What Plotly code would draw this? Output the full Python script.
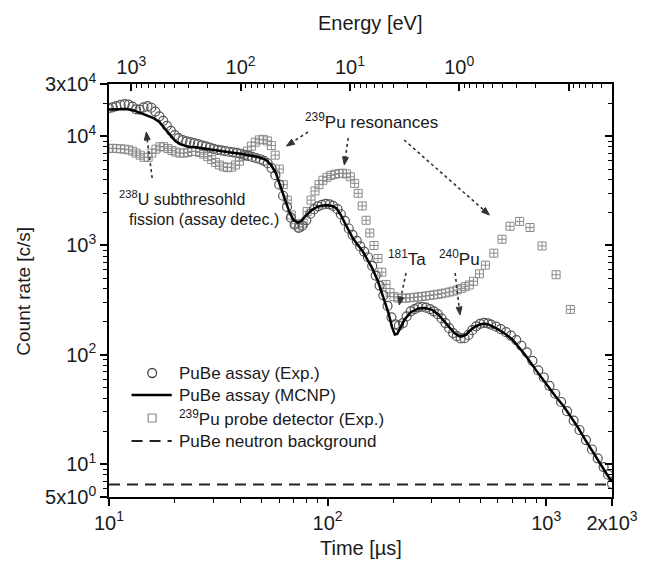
import math
import plotly.graph_objects as go

# ---------------- data ----------------
time_assay = [10.0, 10.4, 10.8, 11.3, 11.8, 12.3, 12.8, 13.3, 13.8, 14.4, 15.0, 15.6, 16.3, 17.0, 17.7,
              18.4, 19.2, 20.0, 20.8, 21.7, 22.6, 23.5, 24.5, 25.5, 26.6, 27.7, 28.9, 30.1, 31.3, 32.6,
              34.0, 35.4, 36.9, 38.4, 40.0, 41.7, 43.4, 45.2, 47.1, 49.1, 51.1, 53.2, 55.4, 57.7, 60.1,
              62.6, 65.2, 67.9, 70.7, 73.7, 76.7, 79.9, 83.3, 86.7, 90.3, 94.1, 98.0, 102, 106, 111,
              115, 120, 125, 130, 136, 141, 147, 153, 160, 166, 173, 180, 188, 196, 204,
              212, 221, 230, 240, 250, 260, 271, 282, 294, 306, 319, 332, 346, 360, 375,
              390, 406, 423, 441, 459, 478, 498, 519, 541, 560, 590, 620, 655, 690, 730,
              770, 815, 865, 920, 975, 1035, 1100, 1170, 1245, 1335, 1420, 1520, 1620, 1720, 1830,
              1920, 2000]
count_assay = [18000, 18300, 18800, 19300, 19600, 19400, 18600, 17600, 17500, 18300, 18800, 18200, 16800, 15200, 13800,
               12400, 11200, 10200, 9600, 9200, 8950, 8800, 8650, 8450, 8250, 8050, 7850, 7650, 7500, 7400,
               7300, 7200, 7120, 7030, 6900, 6750, 6600, 6450, 6300, 6150, 5950, 5650, 5100, 4400, 3600,
               2850, 2250, 1800, 1550, 1450, 1520, 1700, 1950, 2150, 2280, 2350, 2400, 2380, 2300, 2150,
               1930, 1680, 1430, 1250, 1100, 980, 880, 780, 650, 530, 430, 350, 280, 220, 190,
               185, 195, 225, 250, 262, 272, 275, 270, 262, 250, 235, 215, 195, 175, 158,
               148, 141, 142, 152, 168, 182, 192, 196, 194, 189, 181, 172, 161, 150, 136,
               121, 105, 88, 72, 62, 52, 44, 37, 30.5, 25, 20.5, 16.6, 13.6, 11.3, 9.4,
               8.0, 6.6]

time_mcnp = [10, 11, 12, 13, 14, 15, 16, 17, 18, 19, 20, 21, 22, 23, 25, 27, 30, 33, 36, 40,
             44, 48, 52, 55, 58, 61, 64, 67, 70, 73, 76, 80, 85, 90, 95, 100, 105, 110, 115, 120,
             125, 130, 135, 140, 145, 150, 160, 170, 180, 190, 197, 203, 208, 215, 225, 240, 260, 280, 300, 320,
             340, 360, 380, 400, 415, 430, 450, 475, 500, 525, 550, 600, 650, 700, 750, 800, 900, 1000, 1100, 1200,
             1300, 1400, 1500, 1600, 1700, 1800, 1900, 2000]
count_mcnp = [17500, 17600, 17700, 17200, 16300, 15400, 14600, 13500, 11800, 10200, 9100, 8500, 8200, 8000, 7900,
              7700, 7450, 7250, 7100, 6900, 6700, 6450, 6100, 5500, 4600, 3500, 2600, 2000, 1700, 1620,
              1680, 1900, 2120, 2260, 2320, 2330, 2300, 2180, 1900, 1600, 1350, 1180, 1060, 960, 880,
              780, 620, 470, 340, 240, 180, 153, 155, 175, 210, 245, 265, 268, 258, 235,
              205, 178, 158, 148, 148, 153, 168, 182, 190, 192, 188, 172, 155, 138, 118,
              100, 72, 54, 42, 34, 27, 21.5, 17, 13.8, 11.2, 9.4, 8, 6.9]

time_probe = [10.0, 10.4, 10.8, 11.3, 11.8, 12.3, 12.8, 13.3, 13.9, 14.5, 15.1, 15.7, 16.4, 17.1, 17.8,
              18.6, 19.4, 20.2, 21.1, 22.0, 22.9, 23.9, 24.9, 26.0, 27.1, 28.3, 29.5, 30.7, 32.0, 33.4,
              34.8, 36.3, 37.9, 39.5, 41.2, 43.0, 44.8, 46.7, 48.7, 50.8, 53.0, 55.3, 57.6, 60.1, 62.7,
              65.4, 68.2, 71.1, 74.1, 77.3, 80.6, 84.0, 87.6, 91.3, 95.2, 99.3, 103.5, 108, 113, 117,
              122, 127, 133, 138, 144, 150, 156, 163, 170, 177, 185, 193, 201, 210, 219,
              228, 238, 248, 259, 270, 281, 293, 306, 319, 332, 346, 361, 376, 392, 409,
              426, 445, 465, 495, 527, 576, 628, 683, 756, 843, 957, 1110, 1290]
count_probe = [7700, 7750, 7700, 7650, 7600, 7500, 7300, 7000, 6700, 6400, 6400, 7000, 7600, 8000, 8000,
               7700, 7400, 7150, 7000, 7000, 7100, 7250, 7250, 7100, 6850, 6500, 6100, 5750, 5450, 5250,
               5150, 5200, 5450, 5900, 6550, 7300, 8100, 8800, 9250, 9350, 9050, 8200, 6700, 5000, 3600,
               2600, 1900, 1580, 1470, 1600, 2050, 2600, 3150, 3600, 3950, 4200, 4380, 4480, 4550, 4580,
               4520, 4250, 3700, 3000, 2300, 1700, 1300, 1000, 760, 570, 440, 370, 340, 330, 328,
               330, 332, 335, 338, 341, 345, 349, 353, 357, 362, 368, 375, 382, 392, 405,
               420, 435, 470, 550, 660, 850, 1140, 1500, 1660, 1460, 990, 540, 260]

bg_time = [10, 2000]
bg_count = [6.5, 6.5]

x_tickvals = [10, 100, 1000, 2000]
x_ticktext = ["10<sup>1</sup>", "10<sup>2</sup>", "10<sup>3</sup>", "2x10<sup>3</sup>"]
y_tickvals = [5, 10, 100, 1000, 10000, 30000]
y_ticktext = ["5x10<sup>0</sup>", "10<sup>1</sup>", "10<sup>2</sup>", "10<sup>3</sup>",
              "10<sup>4</sup>", "3x10<sup>4</sup>"]
energy_major = [1000, 100, 10, 1, 0.1]
energy_text = ["10<sup>3</sup>", "10<sup>2</sup>", "10<sup>1</sup>", "10<sup>0</sup>", " "]
TOF_CONST = 400.0  # t[us] = TOF_CONST / sqrt(E[eV])

legend_names = ["PuBe assay (Exp.)", "PuBe assay (MCNP)",
                "<sup>239</sup>Pu probe detector (Exp.)", "PuBe neutron background"]

# ---------------- helpers ----------------
X_MIN, X_MAX = 10, 2000
Y_MIN, Y_MAX = 5, 30000

x_minor = [k * 10 ** n for n in (1, 2) for k in range(2, 10)]
y_minor = [k * 10 ** n for n in range(0, 5) for k in range(2, 10)
           if Y_MIN < k * 10 ** n < Y_MAX]
e_min = (TOF_CONST / X_MAX) ** 2
e_max = (TOF_CONST / X_MIN) ** 2
energy_minor = [k * 10.0 ** n for n in range(-2, 4) for k in range(2, 10)
                if e_min <= k * 10.0 ** n <= e_max]
top_major_vals = [TOF_CONST / math.sqrt(e) for e in energy_major]
top_minor_vals = [TOF_CONST / math.sqrt(e) for e in energy_minor]

W, H = 650, 576
ML, MR, MT, MB = 109, 28, 84, 79
PW, PH = W - ML - MR, H - MT - MB


def px(xp):
    return (xp - ML) / PW


def py(yp):
    return (H - MB - yp) / PH


FONT = "Arial, Liberation Sans, sans-serif"
INK = "#1a1a1a"
TICKFONT = dict(family=FONT, size=20, color=INK)

fig = go.Figure()

fig.add_trace(go.Scatter(x=time_probe, y=count_probe, mode="markers", showlegend=False,
                         marker=dict(symbol="square-cross-open", size=8, color="#8a8a8a",
                                     line=dict(width=1, color="#8a8a8a"))))
fig.add_trace(go.Scatter(x=time_assay, y=count_assay, mode="markers", showlegend=False,
                         marker=dict(symbol="circle-open", size=9, color="#555555",
                                     line=dict(width=1.2, color="#555555"))))
fig.add_trace(go.Scatter(x=time_mcnp, y=count_mcnp, mode="lines", showlegend=False,
                         line=dict(color="black", width=2.5)))
fig.add_trace(go.Scatter(x=bg_time, y=bg_count, mode="lines", showlegend=False,
                         xaxis="x2", yaxis="y2",
                         line=dict(color="#222222", width=2, dash="11px,7px")))

axis_common = dict(type="log", showgrid=False, zeroline=False, showline=True,
                   linecolor="black", linewidth=1.5, tickcolor="black", tickwidth=1.5,
                   tickfont=TICKFONT)

fig.update_layout(
    width=W, height=H,
    margin=dict(l=ML, r=MR, t=MT, b=MB),
    paper_bgcolor="white", plot_bgcolor="white",
    font=dict(family=FONT, color=INK),
    showlegend=False,
    xaxis=dict(axis_common, range=[math.log10(X_MIN), math.log10(X_MAX)],
               tickmode="array", tickvals=x_tickvals, ticktext=x_ticktext,
               ticks="outside", ticklen=7,
               minor=dict(tickmode="array", tickvals=x_minor, ticks="outside", ticklen=4,
                          tickcolor="black", tickwidth=1.2)),
    xaxis2=dict(axis_common, overlaying="x", side="top",
                range=[math.log10(X_MIN), math.log10(X_MAX)],
                tickmode="array", tickvals=top_major_vals, ticktext=energy_text,
                ticks="inside", ticklen=7,
                minor=dict(tickmode="array", tickvals=top_minor_vals, ticks="inside", ticklen=4,
                           tickcolor="black", tickwidth=1.2)),
    yaxis=dict(axis_common, range=[math.log10(Y_MIN), math.log10(Y_MAX)],
               tickmode="array", tickvals=y_tickvals, ticktext=y_ticktext,
               ticks="outside", ticklen=7,
               minor=dict(tickmode="array", tickvals=y_minor, ticks="outside", ticklen=4,
                          tickcolor="black", tickwidth=1.2)),
    yaxis2=dict(axis_common, overlaying="y", side="right",
                range=[math.log10(Y_MIN), math.log10(Y_MAX)],
                tickmode="array", tickvals=y_tickvals, showticklabels=False,
                ticks="inside", ticklen=7,
                minor=dict(tickmode="array", tickvals=y_minor, ticks="inside", ticklen=4,
                           tickcolor="black", tickwidth=1.2)),
)

# axis titles
fig.add_annotation(text="Energy [eV]", xref="paper", yref="paper", x=px(376), y=py(23),
                   xanchor="center", yanchor="middle", showarrow=False,
                   font=dict(family=FONT, size=20, color=INK))
fig.add_annotation(text="Time [µs]", xref="paper", yref="paper", x=px(366), y=py(548),
                   xanchor="center", yanchor="middle", showarrow=False,
                   font=dict(family=FONT, size=20, color=INK))
fig.add_annotation(text="Count rate [c/s]", xref="paper", yref="paper", x=px(21), y=py(291),
                   xanchor="center", yanchor="middle", showarrow=False, textangle=-90,
                   font=dict(family=FONT, size=19, color=INK))

# text labels
labels = [
    ("<sup>238</sup>U subthresohld", 117, 198, 16),
    ("fission (assay detec.)", 127, 219, 16),
    ("<sup>239</sup>Pu resonances", 307, 121, 17),
    ("<sup>181</sup>Ta", 392, 258, 17),
    ("<sup>240</sup>Pu", 444, 258, 17),
]
for txt, xl, yc, fs in labels:
    fig.add_annotation(text=txt, xref="paper", yref="paper", x=px(xl), y=py(yc),
                       xanchor="left", yanchor="middle", showarrow=False,
                       font=dict(family=FONT, size=fs, color=INK))

# dotted arrows: (tail_x, tail_y, head_x, head_y) in pixels
arrows = [
    (153, 178, 147, 132),
    (312, 132, 290, 146),
    (353, 138, 349, 165),
    (410, 140, 497, 215),
    (412, 273, 405, 305),
    (462, 273, 467, 315),
]
ARROW_C = "#333333"
for tx, ty, hx, hy in arrows:
    dx, dy = tx - hx, ty - hy
    d = math.hypot(dx, dy)
    ux, uy = dx / d, dy / d
    fig.add_shape(type="line", xref="paper", yref="paper",
                  x0=px(tx), y0=py(ty), x1=px(hx + ux * 6), y1=py(hy + uy * 6),
                  line=dict(color=ARROW_C, width=1.6, dash="dot"))
    bx, by = hx + ux * 8, hy + uy * 8
    p1 = (bx - uy * 3, by + ux * 3)
    p2 = (bx + uy * 3, by - ux * 3)
    path = "M {} {} L {} {} L {} {} Z".format(px(hx), py(hy), px(p1[0]), py(p1[1]),
                                             px(p2[0]), py(p2[1]))
    fig.add_shape(type="path", xref="paper", yref="paper", path=path,
                  fillcolor=ARROW_C, line=dict(color=ARROW_C, width=1))

# manual legend
leg_rows = [373, 395, 418, 441]
sym_x, line_x0, line_x1, text_x = 153, 132, 173, 178
r = 4.5
fig.add_shape(type="circle", xref="paper", yref="paper",
              x0=px(sym_x - r), x1=px(sym_x + r), y0=py(leg_rows[0] + r), y1=py(leg_rows[0] - r),
              line=dict(color="#444444", width=1.3))
fig.add_shape(type="line", xref="paper", yref="paper",
              x0=px(line_x0), x1=px(line_x1), y0=py(leg_rows[1]), y1=py(leg_rows[1]),
              line=dict(color="black", width=2.5))
s = 4
fig.add_shape(type="rect", xref="paper", yref="paper",
              x0=px(sym_x - s), x1=px(sym_x + s), y0=py(leg_rows[2] + s), y1=py(leg_rows[2] - s),
              line=dict(color="#8a8a8a", width=1.2))
fig.add_shape(type="line", xref="paper", yref="paper",
              x0=px(line_x0), x1=px(line_x1), y0=py(leg_rows[3]), y1=py(leg_rows[3]),
              line=dict(color="#222222", width=2, dash="11px,7px"))
for name, yr in zip(legend_names, leg_rows):
    fig.add_annotation(text=name, xref="paper", yref="paper", x=px(text_x), y=py(yr),
                       xanchor="left", yanchor="middle", showarrow=False,
                       font=dict(family=FONT, size=17, color=INK))

fig.write_html("out.html")
